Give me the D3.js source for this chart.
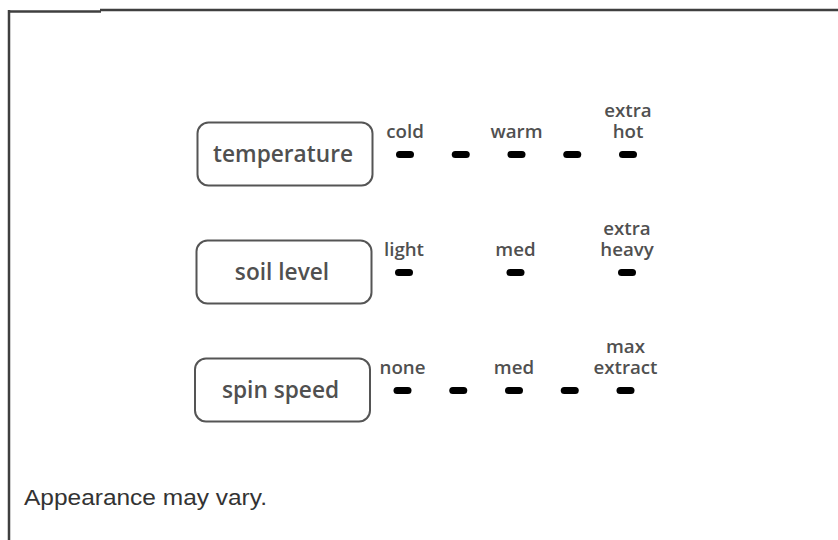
<!DOCTYPE html>
<html>
<head>
<meta charset="utf-8">
<script src="https://cdn.jsdelivr.net/npm/d3@7"></script>
<style>
  html, body { margin: 0; padding: 0; background: #fff; }
  svg { display: block; }
</style>
</head>
<body>
<svg id="chart" width="838" height="540"></svg>
<script>
// ---- data ----
const controls = ["temperature", "soil level", "spin speed"];
const steps = [0, 1, 2, 3, 4];
const temperatureLabels = [["cold"], null, ["warm"], null, ["extra", "hot"]];
const temperatureDots = [0, 1, 2, 3, 4];
const soilLabels = [["light"], null, ["med"], null, ["extra", "heavy"]];
const soilDots = [0, 2, 4];
const spinLabels = [["none"], null, ["med"], null, ["max", "extract"]];
const spinDots = [0, 1, 2, 3, 4];
const footnote = "Appearance may vary.";

const rows = [
  { name: controls[0], labels: temperatureLabels, dots: temperatureDots, shift: 0 },
  { name: controls[1], labels: soilLabels, dots: soilDots, shift: -1 },
  { name: controls[2], labels: spinLabels, dots: spinDots, shift: -2.5 }
];

// ---- drawing ----
const svg = d3.select("#chart");
const W = 838, H = 540;

const x = d3.scalePoint().domain(steps).range([405, 628]);
const y = d3.scalePoint().domain(controls).range([154, 390]);

const frame = "#3f3f3f";
svg.append("line").attr("x1", 9).attr("x2", 9).attr("y1", 10).attr("y2", H)
  .attr("stroke", frame).attr("stroke-width", 2.5);
svg.append("line").attr("x1", 8).attr("x2", 101).attr("y1", 11.5).attr("y2", 11.5)
  .attr("stroke", frame).attr("stroke-width", 2.5);
svg.append("line").attr("x1", 100).attr("x2", W).attr("y1", 10).attr("y2", 10)
  .attr("stroke", frame).attr("stroke-width", 2.5);

const font = "'Open Sans', 'Noto Sans', sans-serif";
const textColor = "#505050";

const g = svg.selectAll("g.row").data(rows).join("g")
  .attr("class", "row")
  .attr("transform", d => `translate(${d.shift},${y(d.name)})`);

// boxes
const boxW = 175, boxH = 63, boxCx = 285;
g.append("rect")
  .attr("x", boxCx - boxW / 2).attr("y", -boxH / 2)
  .attr("width", boxW).attr("height", boxH)
  .attr("rx", 11).attr("ry", 11)
  .attr("fill", "#fff").attr("stroke", "#555").attr("stroke-width", 2);

const boxText = g.append("text")
  .attr("class", "boxlab")
  .attr("x", boxCx - 2).attr("y", 8)
  .attr("text-anchor", "middle")
  .attr("font-family", font)
  .attr("font-weight", 600)
  .attr("font-size", 23)
  .attr("fill", textColor)
  .text(d => d.name);

// dots
g.selectAll("rect.dot").data(d => d.dots).join("rect")
  .attr("class", "dot")
  .attr("x", d => x(d) - 9).attr("y", -3)
  .attr("width", 18).attr("height", 7)
  .attr("rx", 3.5).attr("ry", 3.5)
  .attr("fill", "#000");

// labels
const labTexts = g.selectAll("text.lab")
  .data(d => d.labels.map((l, i) => ({ l, i })).filter(o => o.l))
  .join("text")
  .attr("class", "lab")
  .attr("text-anchor", "middle")
  .attr("font-family", font)
  .attr("font-weight", 600)
  .attr("font-size", 18)
  .attr("fill", textColor)
  .each(function (d) {
    const t = d3.select(this);
    const n = d.l.length;
    d.l.forEach((line, k) => {
      t.append("tspan")
        .attr("x", x(d.i))
        .attr("y", -16 - (n - 1 - k) * 21)
        .text(line);
    });
  });

// horizontal condensing, calibrated on widths
function condense(sel, factor) {
  sel.each(function () {
    const w = this.getComputedTextLength();
    d3.select(this).attr("textLength", w * factor).attr("lengthAdjust", "spacingAndGlyphs");
  });
}
const tempNode = boxText.filter(d => d.name === "temperature").node();
const boxFactor = 140 / tempNode.getComputedTextLength();
condense(boxText, boxFactor);

let warmW = 0;
labTexts.selectAll("tspan").each(function () { if (this.textContent === "warm") warmW = this.getComputedTextLength(); });
const labFactor = 52 / warmW;
condense(labTexts.selectAll("tspan"), labFactor);

// footnote
svg.append("text")
  .attr("x", 24).attr("y", 505)
  .attr("font-family", "'Liberation Sans', Arial, sans-serif")
  .attr("font-size", 22)
  .attr("fill", "#333")
  .attr("textLength", 243)
  .attr("lengthAdjust", "spacingAndGlyphs")
  .text(footnote);
</script>
</body>
</html>
